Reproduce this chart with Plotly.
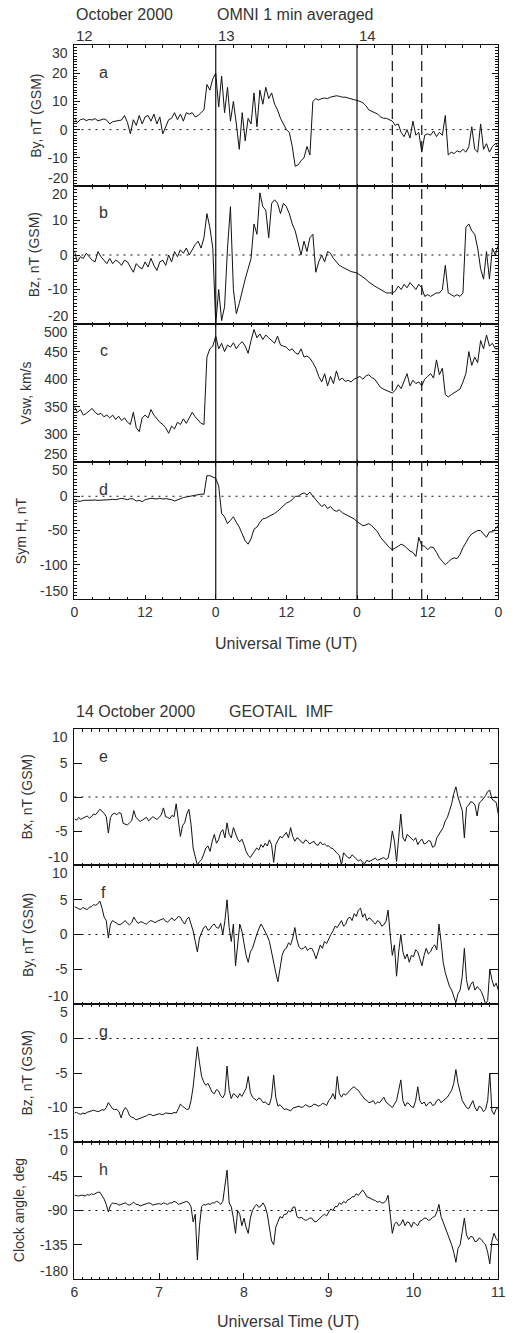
import plotly.graph_objects as go

W, H = 518, 1333

# ---------------- OMNI data (Oct 12 00 UT .. Oct 15 00 UT, hours, 0.5 h step) ----------------
omni_step = 0.5
by_omni = [
    4, 2.5, 3.5, 3.8, 3.2, 3.6, 3.4, 3.9, 3.1, 3.5, 3.8, 3.3,
    2, 2.8, 3, 3.2, 3.4, 5, 2.5, -1.5, 3.5, 1.5, 5, 2,
    4.5, 5, 3, 5.5, 2, 4.5, -1.5, 1, 3.5, 4, 6, 3.5,
    5.5, 3, 6, 5.5, 6, 4.5, 5, 6, 7, 16, 14, 18,
    20, 8, 19, 6, 15, 3, 10, 2, -7, 6, -4, 4,
    2, 13, 1, 14, 9, 15, 11, 13, 9, 7, 4, 2,
    0, -1, -6, -13, -12.5, -11, -10, -6, -9, 10, 11, 10.5,
    11, 11.2, 11, 11.5, 11.8, 12, 11.8, 11.5, 11.5, 11.2, 11, 10.8,
    10.5, 10, 9.5, 8.5, 7, 6.5, 6, 5.5, 4.5, 4, 4, 3.5,
    3, 1.5, 2, -1, -2.5, 0, -3, 3, -2, -1, -8, -2,
    -1.5, -2, -0.5, -2.5, -1, -2, 5, -9, -8, -8.5, -7.5, -8,
    -7, -8, -6, 1, -7, -8, 2, -7, -5, -8, -6, -5,
    -6,
]
bz_omni = [
    1, -2, -0.5, -1, 0.5, -0.5, -1.5, -2, 1, -0.5, -1.5, -2.5,
    -1, -2.5, -1.5, -2, -3, -1.5, -2, -3.5, -5, -2.5, -3.5, -4,
    -2, -3.5, -1, -3, -4.5, -2, -1.5, -3, 0, -2, 1, -0.5,
    1.5, 0.5, 2, 0, 1.5, 3, 4, 2, 5, 12, 8, 2,
    -20, -10, -19, -15, 2, 14, -10, -17, -14, -10, -7, -4,
    -1, 9, 6, 18, 14, 13, 5, 15, 16, 15, 12, 15,
    14, 12, 9, 7, 3, 0, 4, 1, 5, 6, -5, -2,
    0, -2, 1, 0.5, -1, -2, -3, -3.5, -4, -4.3, -4.8, -5,
    -5.2, -5.8, -6.3, -7, -7.8, -8.5, -9, -9.5, -10, -10.5, -11, -11,
    -11, -10.5, -9, -10, -8.5, -9.5, -8, -9, -10, -8.5, -9.5, -12,
    -11.5, -12, -11.5, -11, -11, -10, -3, -11, -11.5, -12, -11.5, -12,
    -11, 8, 9, 7, 6, 2, -4, -7, 1, -7, 2, 0,
    3,
]
vsw_omni = [
    350, 340, 345, 335, 338, 342, 347, 340, 336, 338, 332, 335,
    330, 335, 327, 333, 325, 330, 322, 318, 340, 312, 305, 330,
    335, 330, 345, 335, 328, 322, 318, 312, 302, 315, 310, 322,
    318, 328, 320, 330, 340, 332, 325, 320, 318, 440, 455, 460,
    478, 455, 465, 450, 462, 458, 466, 455, 463, 468, 460, 447,
    470, 490, 475, 482, 472, 480, 475, 470, 465, 478, 462, 460,
    458, 452, 455, 448, 445, 455, 440, 442, 438, 430, 420, 405,
    395, 410, 388, 405, 392, 415, 398, 402, 396, 398, 395, 400,
    402, 405, 400, 406, 408, 403, 400, 392, 385, 382, 380, 378,
    375, 380, 390, 383, 395, 410, 388, 398, 392, 395, 388, 400,
    405, 410, 402, 435, 408, 420, 372, 368, 372, 375, 378, 382,
    395, 410, 450, 425, 440, 430, 470, 455, 480, 460, 465, 455,
    455,
]
symh_omni = [
    -8, -7, -7.5, -6, -6, -5.5, -5, -5.5, -6, -6, -5.5, -5,
    -5, -4.5, -5, -4, -3, -4, -5, -3.5, -4, -7, -6, -8,
    -5, -4, -3, -3.5, -4, -3, -4, -3.5, -4, -5, -7, -5,
    -3, -2, -1, 0, 1, 2, 2.5, 3, 3, 30, 30, 28,
    26, 15, -25, -30, -40, -35, -30, -38, -45, -55, -65, -70,
    -62, -48, -45, -38, -33, -32, -30, -28, -25, -22, -18, -14,
    -10, -8, -5, 0, 0, 3, 5, 2, 6, 0, -5, -10,
    -15, -12, -18, -15, -20, -22, -20, -24, -26, -28, -30, -33,
    -37, -40, -43, -42, -40, -43, -47, -52, -60, -65, -70, -75,
    -78, -76, -73, -70, -72, -76, -80, -82, -88, -60, -72, -73,
    -78, -74, -75, -82, -90, -95, -100, -96, -92, -90, -91, -85,
    -75, -68, -60, -55, -53, -50, -50, -55, -60, -52, -52, -48,
    -42,
]

# ---------------- GEOTAIL data (14 Oct 06-11 UT, 0.025 h step) ----------------
geo_start, geo_step = 6.0, 0.025
bx_geo = [
    -3.2, -3.4, -3.0, -3.3, -3.1, -2.9, -2.8, -3.1, -2.9, -2.5, -2.6, -2.2, -1.8, -2.1, -2.4, -2.9, -5.3, -3.0, -2.5, -2.4,
    -2.6, -2.3, -2.4, -3.9, -4.0, -4.1, -3.8, -3.5, -2.0, -3.0, -3.3, -3.6, -3.4, -3.2, -3.0, -3.5, -3.2, -2.9, -3.1, -3.3,
    -3.0, -2.6, -1.6, -2.9, -3.0, -3.2, -2.7, -2.9, -1.0, -3.5, -5.8, -4.2, -3.8, -2.5, -1.8, -4.0, -7.5, -8.8, -10.0, -9.5,
    -9.2, -8.4, -7.5, -7.2, -8.0, -6.5, -5.5, -6.8, -6.3, -5.2, -4.8, -6.0, -3.8, -5.5, -6.0, -4.5, -5.3, -6.2, -6.6, -6.2,
    -7.0, -8.0, -8.6, -8.9, -8.4, -8.0, -7.5, -7.8, -7.0, -7.4, -6.8, -7.2, -6.3, -7.0, -9.6, -7.0, -6.5, -5.8, -6.0, -5.5,
    -5.2, -6.0, -4.5, -5.8, -6.5, -6.0, -6.2, -6.6, -6.8, -6.3, -6.5, -6.9, -6.7, -6.5, -7.0, -7.1, -6.6, -7.0, -6.9, -7.2,
    -7.2, -7.5, -7.6, -8.0, -8.3, -8.6, -10.0, -8.2, -8.6, -8.9, -9.0, -8.5, -8.8, -9.1, -9.4, -9.2, -9.6, -9.8, -9.3, -9.5,
    -9.3, -9.1, -9.0, -9.3, -9.2, -9.0, -8.9, -9.2, -9.0, -7.5, -5.0, -6.5, -9.5, -6.0, -2.5, -6.0, -6.5, -5.5, -5.8, -6.2,
    -6.4, -6.0, -7.0, -6.5, -6.2, -6.9, -6.8, -6.4, -6.5, -7.4, -7.2, -6.0, -5.5, -5.0, -4.5, -3.5, -3.0, -2.0, -1.0, 0.5,
    1.5, 0.0, -1.0, -2.0, -6.0, -1.5, -1.2, -0.7, -0.8, -1.2, -2.8, -0.9, -0.6, -0.2, 0.2, 0.8, 1.0, -0.3, -0.5, -0.8,
    -2.5,
]
by_geo = [
    4.0, 3.8, 3.7, 3.6, 3.9, 3.7, 3.6, 3.9, 4.0, 4.3, 4.2, 4.4, 4.8, 3.8, 2.5, 2.0, -0.5, 1.5, 2.0, 1.8,
    1.6, 1.4, 1.5, 1.8, 2.0, 1.6, 1.4, 1.7, 2.5, 2.0, 1.6, 1.8, 1.8, 1.6, 1.5, 1.8, 2.0, 1.9, 1.7, 1.9,
    2.0, 2.2, 2.3, 1.9, 1.8, 2.1, 2.4, 2.0, 2.2, 2.6, 2.5, 1.9, 1.5, 2.2, 2.5, 1.5, 0.5, -1.0, -2.5, -0.5,
    0.4, 1.0, 1.2, 0.6, 0.8, 1.3, 1.5, 1.0, 0.9, 1.6, 0.0, 2.0, 5.0, 1.0, -1.0, 1.5, -4.5, -1.0, 1.5, 0.5,
    -1.5, -3.0, -4.0, -2.5, -2.0, -0.8, 0.0, 0.8, 1.5, 1.0, 0.5, -0.2, -1.0, -2.5, -4.5, -5.5, -6.8, -5.0, -3.0, -2.2,
    -2.0, -1.2, -1.5, -0.5, 1.0, -0.8, -1.8, -2.1, -2.0, -1.7, -2.3, -2.0, -2.0, -2.6, -3.5, -2.5, -1.5, -2.0, -1.0, -1.3,
    -0.5, 0.0, 0.5, 1.2, 1.0, 1.6, 2.0, 1.2, 1.5, 2.3, 2.5, 2.0, 3.0, 2.6, 3.5, 3.8, 2.5, 3.0, 2.0, 2.4,
    2.2, 1.8, 1.5, 2.0, 1.8, 1.2, 1.4, 1.9, 3.5, 0.0, -3.0, -1.5, -6.0, -2.5, 0.0, -2.5, -3.5, -2.8, -4.0, -3.0,
    -3.2, -2.2, -2.5, -3.5, -4.5, -3.0, -2.0, -2.8, -2.5, -1.8, -1.5, -2.2, 1.5, -1.0, -4.0, -5.5, -6.5, -7.5, -8.0, -8.8,
    -9.8, -8.5, -8.0, -6.0, -2.0, -6.5, -8.0, -7.2, -6.8, -8.0, -7.5, -7.8, -8.2, -9.0, -10.0, -9.5, -5.0, -6.5, -7.5, -7.0,
    -8.0,
]
bz_geo = [
    -10.8, -10.7, -10.9, -11.0, -10.8, -10.9, -10.7, -10.6, -10.6, -10.4, -10.5, -10.6, -10.5, -10.3, -10.4, -10.0, -9.3, -9.8, -10.2, -10.3,
    -10.3, -10.6, -11.5, -10.5, -10.0, -10.4, -11.2, -11.4, -11.5, -11.8, -11.7, -11.5, -11.4, -11.3, -11.2, -11.0, -11.0, -11.2, -11.1, -10.9,
    -10.9, -11.0, -11.0, -10.8, -10.8, -10.9, -10.9, -10.7, -10.8, -10.2, -9.5, -9.8, -10.0, -10.3, -10.2, -9.0, -7.0, -4.0, -1.2, -3.5,
    -5.5, -6.3, -6.8, -6.5, -7.2, -7.8, -8.0, -7.4, -7.6, -8.3, -8.6, -8.0, -4.0, -7.5, -8.7, -8.0, -8.2, -8.6, -8.0, -8.4,
    -7.8, -7.2, -5.5, -7.8, -8.5, -8.8, -9.0, -8.6, -8.8, -9.3, -9.2, -9.5, -9.6, -8.5, -5.3, -8.5, -9.8, -9.6, -10.0, -10.3,
    -10.2, -10.4, -10.5, -10.1, -10.0, -9.8, -9.8, -10.0, -9.9, -9.6, -9.7, -9.9, -9.8, -9.5, -9.6, -9.8, -9.7, -9.4, -9.5, -9.7,
    -9.0, -8.6, -8.0, -8.8, -5.5, -8.0, -8.5, -8.0, -8.2, -7.8, -7.5, -7.2, -7.0, -7.3, -7.5, -8.0, -8.5, -8.8, -9.0, -9.3,
    -9.2, -9.0, -9.5, -9.2, -9.3, -8.9, -8.5, -9.2, -9.5, -9.8, -10.0, -9.5, -9.0, -7.5, -6.0, -9.0, -9.8, -9.3, -9.5, -9.9,
    -10.0, -9.0, -7.0, -9.0, -9.5, -9.2, -9.8, -9.4, -9.2, -9.7, -9.6, -9.0, -8.8, -9.3, -9.0, -8.7, -8.5, -8.0, -7.5, -6.5,
    -4.5, -6.5, -8.0, -9.0, -9.5, -10.0, -10.2, -9.5, -9.0, -10.0, -10.5, -9.8, -10.0, -10.6, -10.3, -9.0, -5.0, -10.5, -11.0, -10.2,
    -10.0,
]
clock_geo = [
    -70, -71, -71, -70, -70, -71, -69, -70, -68, -69, -67, -66, -66, -70, -75, -82, -92, -83, -80, -81,
    -81, -83, -82, -80, -80, -82, -83, -81, -79, -82, -82, -84, -83, -82, -82, -80, -81, -83, -82, -81,
    -81, -82, -80, -81, -82, -80, -80, -78, -79, -82, -81, -79, -79, -78, -80, -85, -105, -95, -155, -110,
    -85, -82, -83, -81, -82, -80, -80, -78, -79, -82, -78, -60, -37, -80, -85, -100, -120, -90, -95, -110,
    -100, -112, -120, -100, -90, -85, -82, -86, -84, -80, -85, -95, -110, -130, -135, -112, -105, -98, -100, -95,
    -95, -90, -92, -86, -85, -98, -100, -99, -101, -103, -102, -100, -100, -104, -105, -102, -100, -97, -95, -97,
    -92, -88, -90, -85, -85, -80, -82, -78, -80, -76, -75, -72, -72, -68, -70, -66, -63, -67, -72, -73,
    -75, -76, -77, -79, -78, -80, -80, -77, -70, -95, -120, -108, -105, -110, -108, -102, -110, -105, -106, -112,
    -105, -108, -110, -104, -103, -100, -100, -103, -102, -99, -98, -92, -82, -98, -105, -112, -120, -128, -135, -145,
    -158, -140, -135, -118, -100, -122, -128, -124, -125, -131, -130, -126, -128, -132, -135, -145, -160, -130, -120, -127,
    -130,
]

for s in (by_omni, bz_omni, vsw_omni, symh_omni):
    assert len(s) == 145, len(s)
for s in (bx_geo, by_geo, bz_geo, clock_geo):
    assert len(s) == 201, len(s)

t_omni = [i * omni_step for i in range(len(by_omni))]
t_geo = [geo_start + i * geo_step for i in range(len(bx_geo))]

# ---------------- layout geometry ----------------
FONT = "Liberation Sans, Arial, sans-serif"
TXT = "#333333"
X0, X1 = 72, 505
panels = [
    dict(t=45, b=186, r=[-20, 30], tv=[-20, -10, 0, 10, 20, 30], mn=1, L="a", yt="By, nT (GSM)", yx=33, dot=0, g=0),
    dict(t=186, b=324, r=[-20, 20], tv=[-20, -10, 0, 10, 20], mn=1, L="b", yt="Bz, nT (GSM)", yx=31, dot=0, g=0),
    dict(t=324, b=462, r=[250, 500], tv=[250, 300, 350, 400, 450, 500], mn=5, L="c", yt="Vsw, km/s", yx=22, dot=None, g=0),
    dict(t=462, b=599, r=[-150, 50], tv=[-150, -100, -50, 0, 50], mn=5, L="d", yt="Sym H, nT", yx=17, dot=0, g=0),
    dict(t=729, b=865, r=[-10, 10], tv=[-10, -5, 0, 5, 10], mn=None, L="e", yt="Bx, nT (GSM)", yx=24, dot=0, g=1),
    dict(t=865, b=1004, r=[-10, 10], tv=[-10, -5, 0, 5, 10], mn=None, L="f", yt="By, nT (GSM)", yx=24, dot=0, g=1),
    dict(t=1004, b=1142, r=[-15, 5], tv=[-15, -10, -5, 0, 5], mn=None, L="g", yt="Bz, nT (GSM)", yx=24, dot=0, g=1),
    dict(t=1142, b=1279, r=[-180, 0], tv=[-180, -135, -90, -45, 0], mn=None, L="h", yt="Clock angle, deg", yx=15, dot=-90, g=1),
]
series = [(t_omni, by_omni), (t_omni, bz_omni), (t_omni, vsw_omni), (t_omni, symh_omni),
          (t_geo, bx_geo), (t_geo, by_geo), (t_geo, bz_geo), (t_geo, clock_geo)]

omni_xticks = [0, 12, 24, 36, 48, 60, 72]
omni_xtext = ["0", "12", "0", "12", "0", "12", "0"]
geo_xticks = [6, 7, 8, 9, 10, 11]
geo_xtext = ["6", "7", "8", "9", "10", "11"]


def py(p):
    return 1 - p / H


def px(p):
    return p / W


fig = go.Figure()
layout = dict(
    width=W, height=H, margin=dict(l=0, r=0, t=0, b=0),
    paper_bgcolor="white", plot_bgcolor="white", showlegend=False,
    font=dict(family=FONT, size=14, color=TXT),
)
annotations = []
shapes = []

for i, (p, (tx, ty)) in enumerate(zip(panels, series)):
    n = i + 1
    xa = "xaxis" if n == 1 else f"xaxis{n}"
    ya = "yaxis" if n == 1 else f"yaxis{n}"
    xr = "x" if n == 1 else f"x{n}"
    yr = "y" if n == 1 else f"y{n}"
    fig.add_trace(go.Scatter(x=tx, y=ty, mode="lines", xaxis=xr, yaxis=yr,
                             line=dict(color="#111111", width=1), hoverinfo="skip"))
    last_in_group = (n == 4) or (n == 8)
    if p["g"] == 0:
        xrange, tvals, ttext, xminor, xmaj_len = [0, 72], omni_xticks, omni_xtext, 3, 4
    else:
        xrange, tvals, ttext, xminor, xmaj_len = [6, 11], geo_xticks, geo_xtext, 0.1, 6
    layout[xa] = dict(
        domain=[px(X0), px(X1)], range=xrange, anchor=yr,
        tickmode="array", tickvals=tvals,
        ticktext=ttext if last_in_group else [""] * len(tvals),
        showticklabels=last_in_group,
        ticks="inside", ticklen=xmaj_len, tickwidth=1, tickcolor="#111",
        minor=dict(ticks="inside", dtick=xminor, tick0=xrange[0], ticklen=2.5, tickcolor="#111", tickwidth=1),
        showline=True, linecolor="#111", linewidth=1, mirror="allticks",
        showgrid=False, zeroline=False, fixedrange=True,
        tickfont=dict(family=FONT, size=14, color=TXT),
    )
    tv = p["tv"]
    inner_text = [("" if (v == tv[0] or v == tv[-1]) else str(v)) for v in tv]
    ya_d = dict(
        domain=[py(p["b"]), py(p["t"])], range=p["r"], anchor=xr,
        tickmode="array", tickvals=tv, ticktext=inner_text,
        ticks="inside", ticklen=6 if p["g"] == 0 else 8, tickwidth=1, tickcolor="#111",
        showline=True, linecolor="#111", linewidth=1, mirror="allticks",
        showgrid=False, zeroline=False, fixedrange=True,
        tickfont=dict(family=FONT, size=14, color=TXT),
        ticklabelstandoff=3,
    )
    if p["mn"] is not None:
        ya_d["minor"] = dict(ticks="inside", dtick=p["mn"], tick0=p["r"][0], ticklen=3,
                             tickcolor="#111", tickwidth=1)
    layout[ya] = ya_d

    # end tick labels (placed inside the panel height, like the original)
    annotations.append(dict(x=px(67), y=py(p["t"]), xref="paper", yref="paper",
                            text=str(tv[-1]), showarrow=False, xanchor="right", yanchor="top",
                            yshift=2, font=dict(size=14, color=TXT, family=FONT)))
    annotations.append(dict(x=px(67), y=py(p["b"]), xref="paper", yref="paper",
                            text=str(tv[0]), showarrow=False, xanchor="right", yanchor="bottom",
                            yshift=-2, font=dict(size=14, color=TXT, family=FONT)))
    # panel letter
    annotations.append(dict(x=px(102), y=py(p["t"] + 27), xref="paper", yref="paper",
                            text=p["L"], showarrow=False, xanchor="center", yanchor="middle",
                            font=dict(size=16, color=TXT, family=FONT)))
    # y title
    annotations.append(dict(x=px(p["yx"]), y=py((p["t"] + p["b"]) / 2), xref="paper", yref="paper",
                            text=p["yt"], showarrow=False, textangle=-90,
                            xanchor="center", yanchor="middle",
                            font=dict(size=14, color=TXT, family=FONT)))
    # dotted reference line
    if p["dot"] is not None:
        shapes.append(dict(type="line", xref=f"{xr} domain", yref=yr, x0=0, x1=1,
                           y0=p["dot"], y1=p["dot"],
                           line=dict(color="#111", width=1, dash="2px,5px"), layer="above"))

# vertical marker lines through the OMNI panels
for xv, dash in [(24, "solid"), (48, "solid"), (54, "10px,6px"), (59, "10px,6px")]:
    shapes.append(dict(type="line", xref="x", yref="paper", x0=xv, x1=xv,
                       y0=py(599), y1=py(45),
                       line=dict(color="#111", width=1.2, dash=dash), layer="above"))


def txt(x, y, s, size=16, anchor="left"):
    annotations.append(dict(x=px(x), y=py(y), xref="paper", yref="paper", text=s,
                            showarrow=False, xanchor=anchor, yanchor="middle",
                            font=dict(size=size, color=TXT, family=FONT)))


txt(72, 14, "October 2000")
txt(216, 14, "OMNI 1 min averaged")
for day, hx in [("12", 0), ("13", 24), ("14", 48)]:
    annotations.append(dict(x=hx, y=py(35), xref="x", yref="paper", text=day,
                            showarrow=False, xanchor="left", yanchor="middle",
                            font=dict(size=15, color=TXT, family=FONT)))
txt(288, 643, "Universal Time (UT)", anchor="center")
txt(72, 711, "14 October 2000")
txt(228, 711, "GEOTAIL  IMF")
txt(290, 1321, "Universal Time (UT)", anchor="center")

layout["annotations"] = annotations
layout["shapes"] = shapes
fig.update_layout(**layout)
fig.write_html("out.html")
